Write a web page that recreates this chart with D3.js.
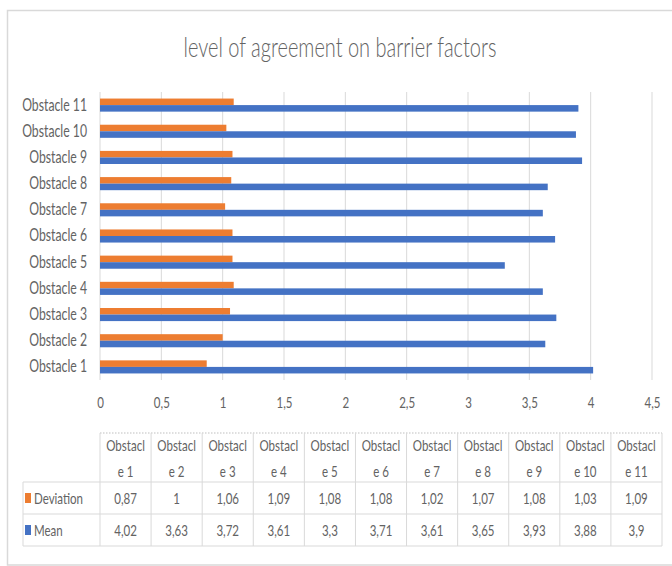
<!DOCTYPE html>
<html>
<head>
<meta charset="utf-8">
<script src="https://cdn.jsdelivr.net/npm/d3@7"></script>
<style>
  html, body { margin: 0; padding: 0; background: #fff; }
  svg { display: block; font-family: Lato, "Open Sans", sans-serif; }
</style>
</head>
<body>
<svg id="chart" width="672" height="566"></svg>
<script>
// Barrier factors: mean agreement and standard deviation per obstacle
const categories = ["Obstacle 1", "Obstacle 2", "Obstacle 3", "Obstacle 4", "Obstacle 5", "Obstacle 6",
                    "Obstacle 7", "Obstacle 8", "Obstacle 9", "Obstacle 10", "Obstacle 11"];
const deviation = [0.87, 1, 1.06, 1.09, 1.08, 1.08, 1.02, 1.07, 1.08, 1.03, 1.09];
const mean = [4.02, 3.63, 3.72, 3.61, 3.3, 3.71, 3.61, 3.65, 3.93, 3.88, 3.9];
const seriesNames = ["Deviation", "Mean"];
const xTicks = [0, 0.5, 1, 1.5, 2, 2.5, 3, 3.5, 4, 4.5];
const titleText = "level of agreement on barrier factors";

const colors = { Deviation: "#ED7D31", Mean: "#4472C4" };
const textColor = "#636363";
const gridColor = "#d9d9d9";
const squeeze = 0.72; // narrow letterforms

const svg = d3.select("#chart");
const comma = v => String(v).replace(".", ",");

function condense(sel, f = squeeze) {
  sel.each(function () {
    const w = this.getComputedTextLength();
    if (w > 0) {
      this.setAttribute("textLength", (w * f).toFixed(2));
      this.setAttribute("lengthAdjust", "spacingAndGlyphs");
    }
  });
}

// outer frame
svg.append("rect")
  .attr("x", 7.5).attr("y", 10.5).attr("width", 670).attr("height", 554.5)
  .attr("fill", "#fff").attr("stroke", gridColor).attr("stroke-width", 1.5);

// title
svg.append("text")
  .attr("x", 340).attr("y", 57)
  .attr("text-anchor", "middle")
  .attr("font-size", 27).attr("font-weight", 300)
  .attr("fill", textColor)
  .text(titleText)
  .call(condense, 0.74);

// scales
const x = d3.scaleLinear().domain([0, 4.5]).range([100, 652]);
const y = d3.scaleBand().domain(categories.slice().reverse()).range([92, 380])
  .paddingInner(0.5).paddingOuter(0.25);
const ySub = d3.scaleBand().domain(seriesNames).range([0, y.bandwidth()]);

// vertical gridlines
svg.append("g").selectAll("line").data(xTicks).join("line")
  .attr("x1", d => x(d)).attr("x2", d => x(d))
  .attr("y1", 92).attr("y2", 380)
  .attr("stroke", gridColor).attr("stroke-width", 1);

// bars
const rows = categories.map((c, i) => ({ cat: c, Deviation: deviation[i], Mean: mean[i] }));
const barG = svg.append("g");
seriesNames.forEach(s => {
  barG.selectAll("rect." + s).data(rows).join("rect")
    .attr("class", s)
    .attr("x", x(0))
    .attr("y", d => y(d.cat) + ySub(s))
    .attr("width", d => x(d[s]) - x(0))
    .attr("height", ySub.bandwidth())
    .attr("fill", colors[s]);
});

// category axis labels
const yAxis = d3.axisLeft(y).tickSize(0).tickPadding(13);
const yg = svg.append("g").attr("transform", `translate(${x(0)},0)`).call(yAxis);
yg.select(".domain").remove();
yg.selectAll("text")
  .attr("font-size", 17).attr("fill", textColor)
  .attr("font-family", "Lato, 'Open Sans', sans-serif")
  .call(condense);

// value axis labels
const xAxis = d3.axisBottom(x).tickValues(xTicks).tickSize(0).tickPadding(0).tickFormat(comma);
const xg = svg.append("g").attr("transform", "translate(0,397)").call(xAxis);
xg.select(".domain").remove();
xg.selectAll("text")
  .attr("font-size", 16).attr("fill", textColor)
  .attr("font-family", "Lato, 'Open Sans', sans-serif")
  .call(condense);

// data table
const colW = (662 - 100) / categories.length;
const tTop = 433, hBot = 482, r1Bot = 514, r2Bot = 546, labelLeft = 23;
const tbl = svg.append("g");

// dotted top edge over data columns
tbl.append("line")
  .attr("x1", 100).attr("x2", 662).attr("y1", tTop).attr("y2", tTop)
  .attr("stroke", "#bfbfbf").attr("stroke-dasharray", "1.5,1.5");
[hBot, r1Bot, r2Bot].forEach(yy => {
  tbl.append("line").attr("x1", labelLeft).attr("x2", 662).attr("y1", yy).attr("y2", yy)
    .attr("stroke", gridColor);
});
d3.range(categories.length + 1).forEach(i => {
  tbl.append("line").attr("x1", 100 + i * colW).attr("x2", 100 + i * colW)
    .attr("y1", tTop).attr("y2", r2Bot).attr("stroke", gridColor);
});
tbl.append("line").attr("x1", labelLeft).attr("x2", labelLeft)
  .attr("y1", hBot).attr("y2", r2Bot).attr("stroke", gridColor);

// header: wrapped category names
const head = tbl.selectAll("text.head").data(categories).join("text")
  .attr("class", "head")
  .attr("text-anchor", "middle")
  .attr("font-size", 16).attr("fill", textColor);
head.append("tspan")
  .attr("x", (d, i) => 100 + (i + 0.5) * colW).attr("y", 451)
  .text(d => d.slice(0, 7));
head.append("tspan")
  .attr("x", (d, i) => 100 + (i + 0.5) * colW).attr("y", 477)
  .text(d => d.slice(7));
head.selectAll("tspan").each(function () {
  const w = this.getComputedTextLength();
  this.setAttribute("textLength", (w * squeeze).toFixed(2));
  this.setAttribute("lengthAdjust", "spacingAndGlyphs");
});

// series rows
const seriesVals = { Deviation: deviation, Mean: mean };
const rowMid = { Deviation: (hBot + r1Bot) / 2, Mean: (r1Bot + r2Bot) / 2 };
seriesNames.forEach(s => {
  tbl.append("rect")
    .attr("x", 25).attr("y", rowMid[s] - 5).attr("width", 6).attr("height", 10)
    .attr("fill", colors[s]);
  tbl.append("text")
    .attr("x", 34).attr("y", rowMid[s]).attr("dy", "0.35em")
    .attr("font-size", 16).attr("fill", textColor)
    .text(s).call(condense);
  tbl.selectAll("text.v" + s).data(seriesVals[s]).join("text")
    .attr("class", "v" + s)
    .attr("x", (d, i) => 100 + (i + 0.5) * colW).attr("y", rowMid[s]).attr("dy", "0.35em")
    .attr("text-anchor", "middle")
    .attr("font-size", 16).attr("fill", textColor)
    .text(comma).call(condense);
});
</script>
</body>
</html>
